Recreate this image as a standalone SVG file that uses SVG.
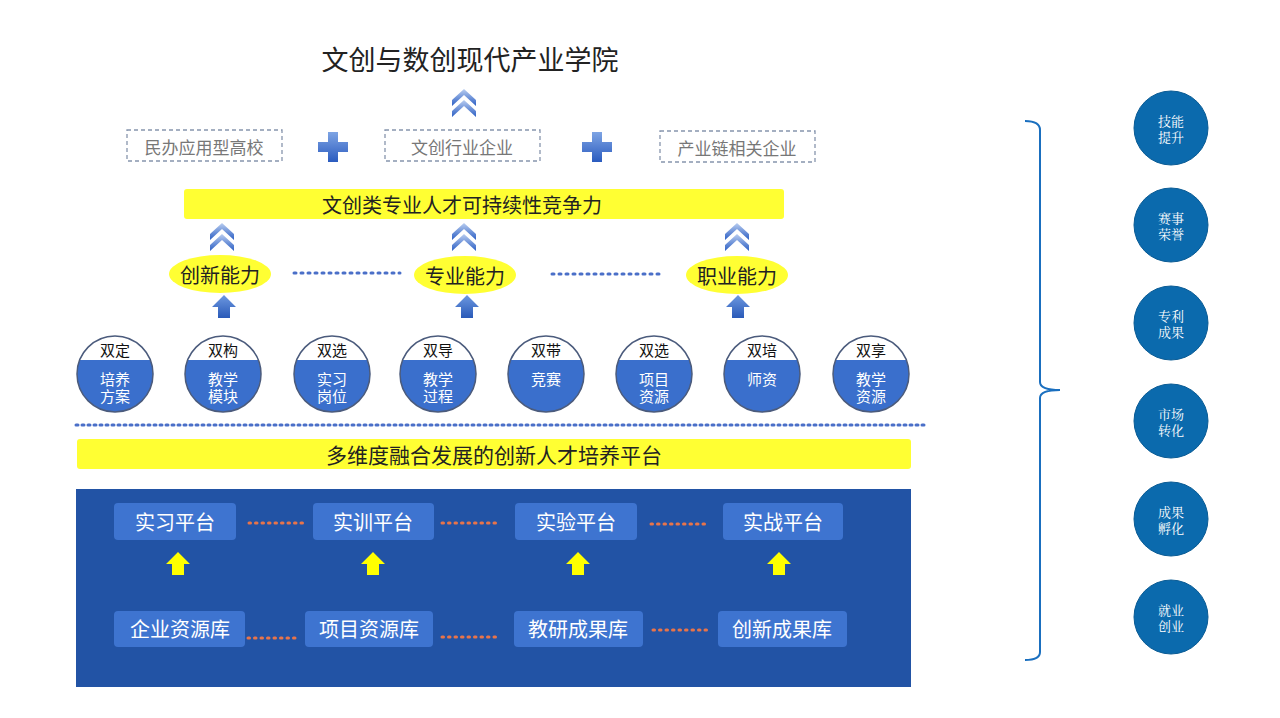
<svg xmlns="http://www.w3.org/2000/svg" width="1280" height="718" viewBox="0 0 1280 718">
<defs>
<linearGradient id="chev" x1="0" y1="0" x2="0" y2="1"><stop offset="0" stop-color="#b9cdf0"/><stop offset="1" stop-color="#2c5fc4"/></linearGradient>
<linearGradient id="plus" x1="0" y1="0" x2="0" y2="1"><stop offset="0" stop-color="#7ea4e4"/><stop offset="1" stop-color="#2a5bbf"/></linearGradient>
<linearGradient id="uparr" x1="0" y1="0" x2="0" y2="1"><stop offset="0" stop-color="#6d98e0"/><stop offset="1" stop-color="#2a5ab8"/></linearGradient>
<g id="dchev">
<path d="M-12,0 L0,-11 L12,0 L12,6 L0,-5 L-12,6 Z" fill="url(#chev)"/>
<path d="M-12,11 L0,0 L12,11 L12,17 L0,6 L-12,17 Z" fill="url(#chev)"/>
</g>
<path id="pl" d="M-5,-15 H5 V-5 H15 V5 H5 V15 H-5 V5 H-15 V-5 H-5 Z" fill="url(#plus)"/>
<path id="barr" d="M0,-12 L12,0 H6 V11 H-6 V0 H-12 Z" fill="url(#uparr)"/>
<path id="yarr" d="M0,-12 L12,0 H6 V11 H-6 V0 H-12 Z" fill="#ffff00"/>
<clipPath id="cc"><circle r="38"/></clipPath>
</defs>
<style>
text{font-family:"Noto Sans CJK SC","Noto Sans",sans-serif;text-anchor:middle;dominant-baseline:central}
.title{font-size:27px;fill:#222}
.dbox{fill:none;stroke:#8795ad;stroke-width:1.3;stroke-dasharray:4 3}
.dtxt{font-size:17px;fill:#777}
.ybar{fill:#ffff33}
.ytxt{font-size:20px;fill:#222}
.ell{fill:#ffff33}
.etxt{font-size:20px;fill:#222}
.bdot{stroke:#4a6fc8;stroke-width:3;stroke-dasharray:2 5;stroke-linecap:round;fill:none}
.odot{stroke:#e8744a;stroke-width:3;stroke-dasharray:1.5 5;stroke-linecap:round;fill:none}
.ctop{font-size:15px;fill:#111}
.cbody{font-size:15px;fill:#fff}
.pbox{fill:#3e74d0}
.ptxt{font-size:20px;fill:#fff}
.rc{fill:#0b6aad;stroke:#0a5b94;stroke-width:1}
.rtxt{font-family:"Noto Serif CJK SC","Liberation Serif","Noto Sans CJK SC",serif;font-size:13px;fill:#fff}
</style>

<g id="title"><text class="title" x="470" y="58">文创与数创现代产业学院</text></g>

<g id="base"><rect x="76" y="489" width="835" height="198" fill="#2253a5"/></g>

<g id="partner1"><rect class="dbox" x="127" y="130" width="155" height="31"/><text class="dtxt" x="204" y="146">民办应用型高校</text></g>
<g id="plus1"><use href="#pl" x="333" y="147"/></g>
<g id="partner2"><rect class="dbox" x="385" y="130" width="155" height="31"/><text class="dtxt" x="462" y="146">文创行业企业</text></g>
<g id="plus2"><use href="#pl" x="597" y="147"/></g>
<g id="partner3"><rect class="dbox" x="660" y="131" width="155" height="31"/><text class="dtxt" x="737" y="147">产业链相关企业</text></g>

<g id="compete"><rect class="ybar" x="184" y="189" width="600" height="30" rx="3"/><text class="ytxt" x="462" y="204">文创类专业人才可持续性竞争力</text></g>

<g id="connectors">
<use href="#dchev" x="464" y="100"/>
<use href="#dchev" x="222" y="234"/>
<use href="#dchev" x="464" y="234"/>
<use href="#dchev" x="737" y="234"/>
<line class="bdot" x1="294" y1="273" x2="400" y2="273"/>
<line class="bdot" x1="552" y1="274" x2="664" y2="274"/>
<use href="#barr" x="224" y="307"/>
<use href="#barr" x="467" y="307"/>
<use href="#barr" x="738" y="307"/>
<line class="bdot" x1="76" y1="425" x2="925" y2="425" style="stroke-dasharray:2 4"/>
<use href="#yarr" x="178" y="564"/>
<use href="#yarr" x="373" y="564"/>
<use href="#yarr" x="578" y="564"/>
<use href="#yarr" x="779" y="564"/>
<line class="odot" x1="249" y1="523" x2="303" y2="523"/>
<line class="odot" x1="442" y1="523" x2="496" y2="523"/>
<line class="odot" x1="651" y1="524" x2="705" y2="524"/>
<line class="odot" x1="248" y1="638" x2="300" y2="638"/>
<line class="odot" x1="442" y1="637" x2="496" y2="637"/>
<line class="odot" x1="653" y1="630" x2="708" y2="630"/>
<path d="M1025,121 Q1040,121 1040,130 V382 Q1040,390 1060,390 Q1040,390 1040,398 V652 Q1040,660 1025,660" fill="none" stroke="#1a6fbf" stroke-width="2"/>
</g>

<g id="ab1"><ellipse class="ell" cx="220" cy="274" rx="51" ry="19"/><text class="etxt" x="220" y="274">创新能力</text></g>
<g id="ab2"><ellipse class="ell" cx="465" cy="275" rx="51" ry="19"/><text class="etxt" x="465" y="275">专业能力</text></g>
<g id="ab3"><ellipse class="ell" cx="737" cy="275" rx="51" ry="19"/><text class="etxt" x="737" y="275">职业能力</text></g>

<g id="c1" transform="translate(115,374)"><g clip-path="url(#cc)"><rect x="-40" y="-40" width="80" height="80" fill="#3a6fcc"/><rect x="-40" y="-40" width="80" height="26" fill="#fff"/></g><circle r="38" fill="none" stroke="#4b5b7c" stroke-width="1.5"/><text class="ctop" y="-25">双定</text><text class="cbody"><tspan x="0" y="4">培养</tspan><tspan x="0" y="21">方案</tspan></text></g>
<g id="c2" transform="translate(223,374)"><g clip-path="url(#cc)"><rect x="-40" y="-40" width="80" height="80" fill="#3a6fcc"/><rect x="-40" y="-40" width="80" height="26" fill="#fff"/></g><circle r="38" fill="none" stroke="#4b5b7c" stroke-width="1.5"/><text class="ctop" y="-25">双构</text><text class="cbody"><tspan x="0" y="4">教学</tspan><tspan x="0" y="21">模块</tspan></text></g>
<g id="c3" transform="translate(332,374)"><g clip-path="url(#cc)"><rect x="-40" y="-40" width="80" height="80" fill="#3a6fcc"/><rect x="-40" y="-40" width="80" height="26" fill="#fff"/></g><circle r="38" fill="none" stroke="#4b5b7c" stroke-width="1.5"/><text class="ctop" y="-25">双选</text><text class="cbody"><tspan x="0" y="4">实习</tspan><tspan x="0" y="21">岗位</tspan></text></g>
<g id="c4" transform="translate(438,374)"><g clip-path="url(#cc)"><rect x="-40" y="-40" width="80" height="80" fill="#3a6fcc"/><rect x="-40" y="-40" width="80" height="26" fill="#fff"/></g><circle r="38" fill="none" stroke="#4b5b7c" stroke-width="1.5"/><text class="ctop" y="-25">双导</text><text class="cbody"><tspan x="0" y="4">教学</tspan><tspan x="0" y="21">过程</tspan></text></g>
<g id="c5" transform="translate(546,374)"><g clip-path="url(#cc)"><rect x="-40" y="-40" width="80" height="80" fill="#3a6fcc"/><rect x="-40" y="-40" width="80" height="26" fill="#fff"/></g><circle r="38" fill="none" stroke="#4b5b7c" stroke-width="1.5"/><text class="ctop" y="-25">双带</text><text class="cbody" y="4">竞赛</text></g>
<g id="c6" transform="translate(654,374)"><g clip-path="url(#cc)"><rect x="-40" y="-40" width="80" height="80" fill="#3a6fcc"/><rect x="-40" y="-40" width="80" height="26" fill="#fff"/></g><circle r="38" fill="none" stroke="#4b5b7c" stroke-width="1.5"/><text class="ctop" y="-25">双选</text><text class="cbody"><tspan x="0" y="4">项目</tspan><tspan x="0" y="21">资源</tspan></text></g>
<g id="c7" transform="translate(762,374)"><g clip-path="url(#cc)"><rect x="-40" y="-40" width="80" height="80" fill="#3a6fcc"/><rect x="-40" y="-40" width="80" height="26" fill="#fff"/></g><circle r="38" fill="none" stroke="#4b5b7c" stroke-width="1.5"/><text class="ctop" y="-25">双培</text><text class="cbody" y="4">师资</text></g>
<g id="c8" transform="translate(871,374)"><g clip-path="url(#cc)"><rect x="-40" y="-40" width="80" height="80" fill="#3a6fcc"/><rect x="-40" y="-40" width="80" height="26" fill="#fff"/></g><circle r="38" fill="none" stroke="#4b5b7c" stroke-width="1.5"/><text class="ctop" y="-25">双享</text><text class="cbody"><tspan x="0" y="4">教学</tspan><tspan x="0" y="21">资源</tspan></text></g>

<g id="platform-bar"><rect class="ybar" x="77" y="439" width="834" height="30" rx="3"/><text class="ytxt" x="494" y="454" style="font-size:21px">多维度融合发展的创新人才培养平台</text></g>

<g id="p1"><rect class="pbox" x="114" y="503" width="122" height="37" rx="4"/><text class="ptxt" x="175" y="521">实习平台</text></g>
<g id="p2"><rect class="pbox" x="313" y="503" width="121" height="37" rx="4"/><text class="ptxt" x="373" y="521">实训平台</text></g>
<g id="p3"><rect class="pbox" x="515" y="503" width="122" height="37" rx="4"/><text class="ptxt" x="576" y="521">实验平台</text></g>
<g id="p4"><rect class="pbox" x="723" y="503" width="120" height="37" rx="4"/><text class="ptxt" x="783" y="521">实战平台</text></g>

<g id="l1"><rect class="pbox" x="114" y="611" width="131" height="36" rx="4"/><text class="ptxt" x="180" y="628">企业资源库</text></g>
<g id="l2"><rect class="pbox" x="305" y="611" width="128" height="36" rx="4"/><text class="ptxt" x="369" y="628">项目资源库</text></g>
<g id="l3"><rect class="pbox" x="514" y="611" width="129" height="36" rx="4"/><text class="ptxt" x="578" y="628">教研成果库</text></g>
<g id="l4"><rect class="pbox" x="718" y="611" width="129" height="36" rx="4"/><text class="ptxt" x="782" y="628">创新成果库</text></g>

<g id="r1"><circle class="rc" cx="1171" cy="128" r="37"/><text class="rtxt"><tspan x="1171" y="120">技能</tspan><tspan x="1171" y="136">提升</tspan></text></g>
<g id="r2"><circle class="rc" cx="1171" cy="225" r="37"/><text class="rtxt"><tspan x="1171" y="217">赛事</tspan><tspan x="1171" y="233">荣誉</tspan></text></g>
<g id="r3"><circle class="rc" cx="1171" cy="323" r="37"/><text class="rtxt"><tspan x="1171" y="315">专利</tspan><tspan x="1171" y="331">成果</tspan></text></g>
<g id="r4"><circle class="rc" cx="1171" cy="421" r="37"/><text class="rtxt"><tspan x="1171" y="413">市场</tspan><tspan x="1171" y="429">转化</tspan></text></g>
<g id="r5"><circle class="rc" cx="1171" cy="519" r="37"/><text class="rtxt"><tspan x="1171" y="511">成果</tspan><tspan x="1171" y="527">孵化</tspan></text></g>
<g id="r6"><circle class="rc" cx="1171" cy="617" r="37"/><text class="rtxt"><tspan x="1171" y="609">就业</tspan><tspan x="1171" y="625">创业</tspan></text></g>
</svg>
